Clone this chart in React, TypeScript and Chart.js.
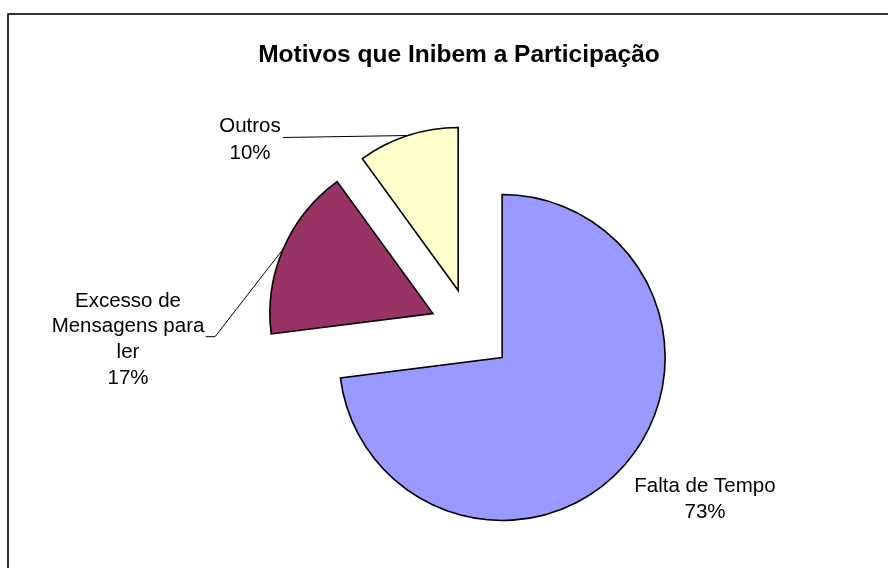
import React, { useEffect, useRef } from "react";
import { Chart, registerables } from "chart.js";

Chart.register(...registerables);

// ---- data ----
const TITLE = "Motivos que Inibem a Participação";
const categories = ["Falta de Tempo", "Excesso de Mensagens para ler", "Outros"];
const labelLines = [["Falta de Tempo"], ["Excesso de", "Mensagens para", "ler"], ["Outros"]];
const values = [73, 17, 10];
const colors = ["#9999FF", "#993366", "#FFFFCC"];

// ---- layout / style ----
const RADIUS = 163;
const EXPLODE = 41.5; // px every slice is pulled out
const OFFSET_DIV = 4; // Chart.js arc draws options.offset / 4
const FONT = "'Liberation Sans', Arial, Helvetica, sans-serif";

const LABEL_LAYOUT: { cx: number; y: number; lh: number; leader: number[][] | null }[] = [
  { cx: 705, y: 491.7, lh: 26.6, leader: null },
  { cx: 128, y: 306.7, lh: 25.6, leader: [[205.7, 336.7], [215, 336.7]] },
  { cx: 250, y: 132, lh: 27, leader: [[283, 137.5]] },
];

const explodeFix = {
  id: "explodeFix",
  afterDatasetsUpdate(chart: any) {
    const meta = chart.getDatasetMeta(0);
    const R = meta.controller.outerRadius;
    meta.data.forEach((arc: any) => {
      const d = (arc.options.offset || 0) / OFFSET_DIV;
      const fix = 1 - Math.sin(Math.min(Math.PI, arc.circumference || 0));
      const ro = d * fix;
      arc.outerRadius = R - ro;
      const trim = ro / (Math.PI * R) / 2;
      arc.startAngle -= trim;
      arc.endAngle += trim;
    });
  },
};

const decor = {
  id: "decor",
  beforeDraw(chart: any) {
    const ctx = chart.ctx;
    ctx.save();
    ctx.fillStyle = "#fff";
    ctx.fillRect(0, 0, chart.width, chart.height);
    ctx.strokeStyle = "#000";
    ctx.lineWidth = 1.6;
    ctx.strokeRect(8, 14, chart.width + 20, chart.height + 20);
    ctx.restore();
  },
  afterDraw(chart: any) {
    const ctx = chart.ctx;
    const meta = chart.getDatasetMeta(0);
    const R = meta.controller.outerRadius;
    ctx.save();
    // title
    ctx.fillStyle = "#000";
    ctx.font = `bold 24.5px ${FONT}`;
    ctx.textAlign = "center";
    ctx.textBaseline = "alphabetic";
    ctx.fillText(TITLE, 459, 61.7);

    ctx.font = `20.5px ${FONT}`;
    meta.data.forEach((arc: any, i: number) => {
      const mid = (arc.startAngle + arc.endAngle) / 2;
      const d = (arc.options.offset || 0) / OFFSET_DIV;
      const px = arc.x + Math.cos(mid) * (d + R);
      const py = arc.y + Math.sin(mid) * (d + R);
      const L = LABEL_LAYOUT[i];
      if (L.leader) {
        ctx.beginPath();
        ctx.strokeStyle = "#000";
        ctx.lineWidth = 1;
        ctx.moveTo(L.leader[0][0], L.leader[0][1]);
        for (let k = 1; k < L.leader.length; k++) ctx.lineTo(L.leader[k][0], L.leader[k][1]);
        ctx.lineTo(px, py);
        ctx.stroke();
      }
      const lines = [...labelLines[i], `${values[i]}%`];
      lines.forEach((t, j) => {
        ctx.fillText(t, L.cx, L.y + j * L.lh);
      });
    });
    ctx.restore();
  },
};

export default function App() {
  const ref = useRef<HTMLCanvasElement | null>(null);
  useEffect(() => {
    if (!ref.current) return;
    const chart = new Chart(ref.current, {
      type: "pie",
      data: {
        labels: categories,
        datasets: [
          {
            data: values,
            backgroundColor: colors,
            borderColor: "#000",
            borderWidth: 1.6,
            borderJoinStyle: "miter",
            offset: EXPLODE * OFFSET_DIV,
            hoverOffset: 0,
            radius: RADIUS,
          } as any,
        ],
      },
      options: {
        responsive: false,
        animation: false,
        events: [],
        layout: { padding: { left: 54, right: 0, top: 92, bottom: 0 } },
        plugins: {
          legend: { display: false },
          title: { display: false },
          tooltip: { enabled: false },
        },
      },
      plugins: [explodeFix, decor],
    });
    return () => chart.destroy();
  }, []);
  return (
    <div style={{ position: "absolute", left: 0, top: 0, width: 888, height: 568 }}>
      <canvas ref={ref} width={888} height={568} style={{ display: "block" }} />
    </div>
  );
}
